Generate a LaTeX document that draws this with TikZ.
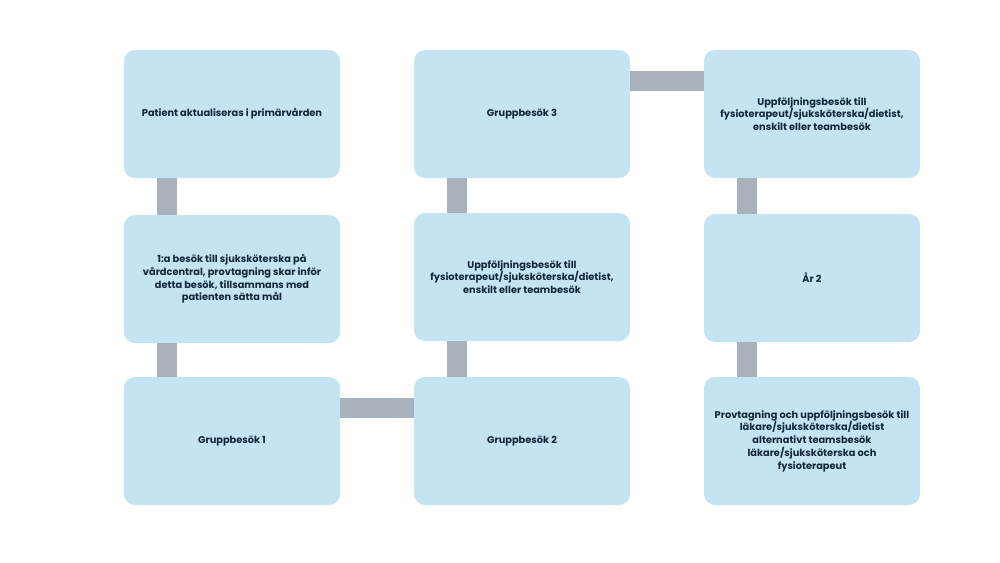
\documentclass[tikz,border=0pt]{standalone}
\usepackage{fontspec}
\setmainfont{Poppins}
\definecolor{boxfill}{HTML}{C4E4F4}
\definecolor{conngray}{HTML}{A9B1BC}
\definecolor{txt}{HTML}{13263A}
\begin{document}
\begin{tikzpicture}[x=1pt,y=-1pt,
  stepbox/.style={rectangle, rounded corners=11pt, fill=boxfill, draw=none,
    minimum width=216pt, minimum height=128pt, align=center, text=txt,
    font=\fontsize{9.8}{12.7}\selectfont\bfseries, inner sep=0pt},
  conn/.style={draw=conngray, line width=20pt}]
\useasboundingbox[fill=white] (0,0) rectangle (1000,562);
\node[stepbox] (b1) at (232,114) {Patient aktualiseras i primärvården};
\node[stepbox] (b2) at (232,279) {1:a besök till sjuksköterska på\\vårdcentral, provtagning skar inför\\detta besök, tillsammans med\\patienten sätta mål};
\node[stepbox] (b3) at (232,441) {Gruppbesök 1};
\node[stepbox] (b4) at (522,441) {Gruppbesök 2};
\node[stepbox] (b5) at (522,277) {Uppföljningsbesök till\\fysioterapeut/sjuksköterska/dietist,\\enskilt eller teambesök};
\node[stepbox] (b6) at (522,114) {Gruppbesök 3};
\node[stepbox] (b7) at (812,114) {Uppföljningsbesök till\\fysioterapeut/sjuksköterska/dietist,\\enskilt eller teambesök};
\node[stepbox] (b8) at (812,278) {År 2};
\node[stepbox] (b9) at (812,441) {Provtagning och uppföljningsbesök till\\läkare/sjuksköterska/dietist\\alternativt teamsbesök\\läkare/sjuksköterska och\\fysioterapeut};
\draw[conn] ([xshift=43pt]b1.south west) -- ([xshift=43pt]b2.north west);
\draw[conn] ([xshift=43pt]b2.south west) -- ([xshift=43pt]b3.north west);
\draw[conn] ([yshift=-31pt]b3.north east) -- ([yshift=-31pt]b4.north west);
\draw[conn] ([xshift=43pt]b5.south west) -- ([xshift=43pt]b4.north west);
\draw[conn] ([xshift=43pt]b6.south west) -- ([xshift=43pt]b5.north west);
\draw[conn] ([yshift=-31pt]b6.north east) -- ([yshift=-31pt]b7.north west);
\draw[conn] ([xshift=43pt]b7.south west) -- ([xshift=43pt]b8.north west);
\draw[conn] ([xshift=43pt]b8.south west) -- ([xshift=43pt]b9.north west);
\end{tikzpicture}
\end{document}
